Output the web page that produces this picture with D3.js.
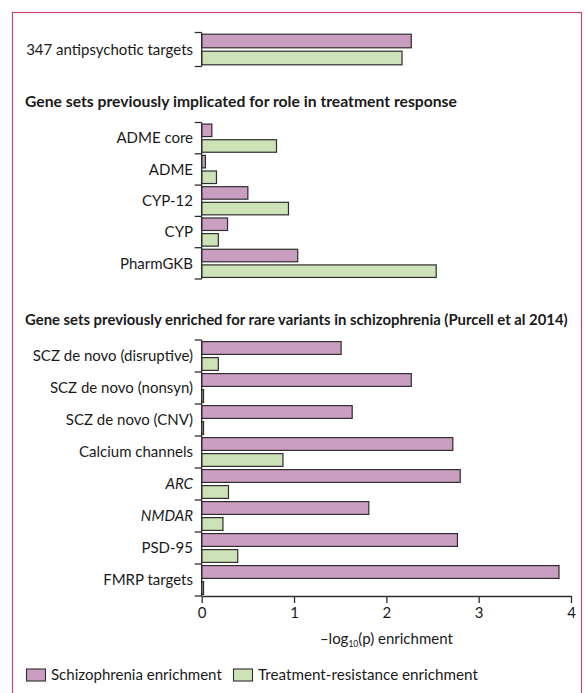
<!DOCTYPE html>
<html>
<head>
<meta charset="utf-8">
<script src="https://cdn.jsdelivr.net/npm/d3@7/dist/d3.min.js"></script>
<style>
  html, body { margin: 0; padding: 0; background: #fff; }
  svg { display: block; }
  text { font-family: Lato, "Open Sans", sans-serif; fill: #1a1a1a; }
</style>
</head>
<body>
<svg id="chart" width="585" height="693"></svg>
<script>
// ---- data ----
const seriesNames = ["Schizophrenia enrichment", "Treatment-resistance enrichment"];

const topCategories = ["347 antipsychotic targets"];
const topSchizophrenia = [2.27];
const topTreatment = [2.17];

const responseHeading = "Gene sets previously implicated for role in treatment response";
const responseCategories = ["ADME core", "ADME", "CYP-12", "CYP", "PharmGKB"];
const responseSchizophrenia = [0.11, 0.04, 0.50, 0.28, 1.04];
const responseTreatment = [0.81, 0.16, 0.94, 0.18, 2.54];

const rareHeading = "Gene sets previously enriched for rare variants in schizophrenia (Purcell et al 2014)";
const rareCategories = ["SCZ de novo (disruptive)", "SCZ de novo (nonsyn)", "SCZ de novo (CNV)",
  "Calcium channels", "ARC", "NMDAR", "PSD-95", "FMRP targets"];
const rareSchizophrenia = [1.51, 2.27, 1.63, 2.72, 2.80, 1.81, 2.77, 3.87];
const rareTreatment = [0.18, 0.02, 0.02, 0.88, 0.29, 0.23, 0.39, 0.02];
const italicCategories = ["ARC", "NMDAR"];

const xTicks = [0, 1, 2, 3, 4];

// ---- styles ----
const colors = ["#c99ec1", "#cde2b6"];
const strokeColor = "#2e2e2e";
const frameColor = "#c9486e";

const svg = d3.select("#chart");

function fitWidth(sel, target) {
  const fs = parseFloat(sel.style("font-size"));
  const w = sel.node().getComputedTextLength();
  if (w > 0) sel.style("font-size", (fs * target / w).toFixed(2) + "px");
}

// frame
svg.append("rect").attr("x", 12.5).attr("y", 12.5).attr("width", 569).attr("height", 700)
  .attr("fill", "none").attr("stroke", frameColor).attr("stroke-width", 1.2);

const x = d3.scaleLinear().domain([0, 4]).range([201.7, 571]);

const groups = [
  { cats: topCategories, s: topSchizophrenia, t: topTreatment, y0: 32.5, y1: 66.5 },
  { cats: responseCategories, s: responseSchizophrenia, t: responseTreatment, y0: 122.5, y1: 279 },
  { cats: rareCategories, s: rareSchizophrenia, t: rareTreatment, y0: 340, y1: 596 }
];

groups.forEach(g => {
  const y = d3.scaleBand().domain(g.cats).range([g.y0, g.y1]);
  const inner = d3.scaleBand().domain([0, 1]).range([0, y.bandwidth()]).paddingInner(0.2).paddingOuter(0.1);
  const gg = svg.append("g");
  g.cats.forEach((c, i) => {
    [g.s[i], g.t[i]].forEach((v, k) => {
      gg.append("rect")
        .attr("x", x(0))
        .attr("y", y(c) + inner(k))
        .attr("width", x(v) - x(0))
        .attr("height", inner.bandwidth())
        .attr("fill", colors[k])
        .attr("stroke", strokeColor)
        .attr("stroke-width", 1.2);
    });
    gg.append("text")
      .attr("x", 193)
      .attr("y", y(c) + y.bandwidth() / 2)
      .attr("dy", "0.35em")
      .attr("text-anchor", "end")
      .style("font-size", "15px")
      .style("font-style", italicCategories.includes(c) ? "italic" : "normal")
      .text(c);
  });
  // bracket axis
  gg.append("line").attr("x1", x(0)).attr("x2", x(0)).attr("y1", g.y0).attr("y2", g.y1)
    .attr("stroke", strokeColor).attr("stroke-width", 1.3);
  const bounds = g.cats.map(c => y(c)).concat([g.y1]);
  bounds.forEach(b => {
    gg.append("line").attr("x1", x(0) - 7).attr("x2", x(0)).attr("y1", b).attr("y2", b)
      .attr("stroke", strokeColor).attr("stroke-width", 1.3);
  });
});

// headings
const h1 = svg.append("text").attr("x", 25).attr("y", 107).style("font-size", "14px").style("font-weight", "bold")
  .text(responseHeading);
fitWidth(h1, 432);
const h2 = svg.append("text").attr("x", 25).attr("y", 325).style("font-size", "14px").style("font-weight", "bold")
  .text(rareHeading);
fitWidth(h2, 543);

// x axis
const axis = d3.axisBottom(x).tickValues(xTicks).tickSize(7).tickSizeOuter(0).tickPadding(4)
  .tickFormat(d3.format("d"));
const ax = svg.append("g").attr("transform", "translate(0,596)").call(axis);
ax.select(".domain").attr("stroke", strokeColor).attr("stroke-width", 1.3);
ax.selectAll(".tick line").attr("stroke", strokeColor).attr("stroke-width", 1.3);
ax.selectAll(".tick text").style("font-size", "15px").style("font-family", "Lato, sans-serif").attr("fill", "#1a1a1a");

// axis title
const title = svg.append("text").attr("x", x(2)).attr("y", 644).attr("text-anchor", "middle").style("font-size", "15px");
title.append("tspan").text("\u2013log");
title.append("tspan").attr("dy", 3).style("font-size", "8.5px").text("10");
title.append("tspan").attr("dy", -3).text("(p) enrichment");

// legend
const legendBoxX = [26, 233];
const legendTextW = [171, 220];
const legend = svg.append("g").attr("transform", "translate(0,668.5)");
seriesNames.forEach((name, k) => {
  legend.append("rect").attr("x", legendBoxX[k] + 0.5).attr("y", 0.5).attr("width", 19).attr("height", 12)
    .attr("fill", colors[k]).attr("stroke", strokeColor).attr("stroke-width", 1.1);
  const t = legend.append("text").attr("x", legendBoxX[k] + 25).attr("y", 6.5).attr("dy", "0.35em")
    .style("font-size", "15px").text(name);
  fitWidth(t, legendTextW[k]);
});
</script>
</body>
</html>
